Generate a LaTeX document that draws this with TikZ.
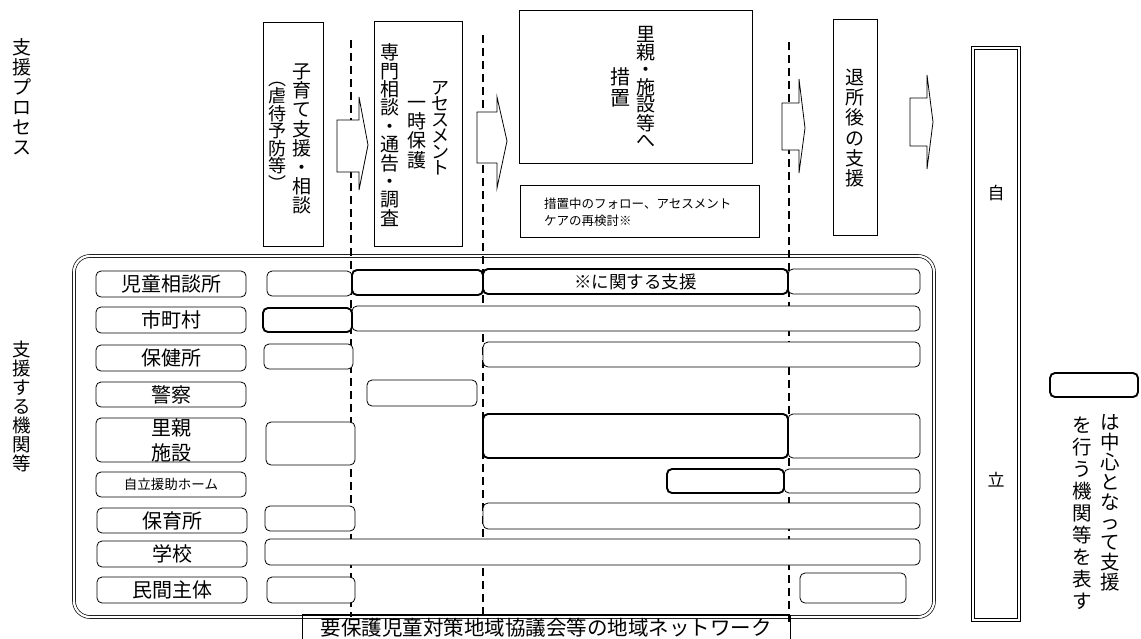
\documentclass[tikz,border=0pt]{standalone}
\usepackage{fontspec}
\newfontfamily\jp{Noto Sans CJK JP}
\newcommand\pbox[7]{\node[#1, minimum width={#4-#2}, minimum height={#5-#3}] (#6) at ({(#2+#4)/2},{(#3+#5)/2}) {#7};}
\begin{document}
\begin{tikzpicture}[x=1pt,y=-1pt,
  thinbar/.style={draw, line width=0.8pt, rounded corners=5pt, fill=white, inner sep=0pt, outer sep=0pt},
  thickbar/.style={thinbar, line width=1.9pt},
  lbl/.style={thinbar, font=\jp\fontsize{20}{25}\selectfont, align=center},
  procbox/.style={draw, line width=0.8pt, fill=white, inner sep=0pt, outer sep=0pt},
  vt/.style 2 args={font=\jp\fontsize{#1}{#2}\selectfont, align=center, inner sep=0pt},
  divider/.style={line width=1.3pt, dash pattern=on 8pt off 5pt},
  blockarrow/.style={draw, line width=0.8pt, fill=white, line join=miter},
  netbox/.style={draw, line width=0.7pt, double, double distance=2.2pt, rounded corners=16pt, inner sep=0pt, outer sep=0pt},
  goalbox/.style={draw, line width=0.8pt, double, double distance=2.6pt, inner sep=0pt, outer sep=0pt},
]
\useasboundingbox (0,0) rectangle (1141,638);
\clip (0,0) rectangle (1141,638);
\fill[white] (0,0) rectangle (1141,638);

% side labels
\node[vt={19}{20}] (procLbl) at (22,97) {支\\援\\プ\\ロ\\セ\\ス};
\node[vt={18.5}{19}] (orgLbl) at (22,406) {支\\援\\す\\る\\機\\関\\等};

% network frame
\pbox{netbox}{74}{256}{934}{617}{net}{}

% dividers
\coordinate (d1t) at (351,40);  \coordinate (d1b) at (351,617);
\coordinate (d2t) at (483,35);  \coordinate (d2b) at (483,617);
\coordinate (d3t) at (789,42);  \coordinate (d3b) at (789,622);
\draw[divider] (d1t) -- (d1b);
\draw[divider] (d2t) -- (d2b);
\draw[divider] (d3t) -- (d3b);

% row labels
\pbox{lbl}{96}{271}{246}{297}{L1}{児童相談所}
\pbox{lbl}{96}{307}{246}{333}{L2}{市町村}
\pbox{lbl}{96}{345}{246}{371}{L3}{保健所}
\pbox{lbl}{96}{382}{246}{407}{L4}{警察}
\pbox{lbl}{96}{418}{246}{462}{L5}{里親\\施設}
\pbox{thinbar, font=\jp\fontsize{13.5}{15}\selectfont}{96}{472}{246}{497}{L6}{自立援助ホーム}
\pbox{lbl}{97}{508}{247}{533}{L7}{保育所}
\pbox{lbl}{97}{541}{247}{567}{L8}{学校}
\pbox{lbl}{97}{577}{247}{603}{L9}{民間主体}

% row bars
\pbox{thinbar}{267}{271}{352}{296}{r1a}{}
\pbox{thinbar}{788}{269}{920}{294}{r1d}{}
\pbox{thickbar}{352}{270}{483}{295}{r1b}{}
\pbox{thickbar, font=\jp\fontsize{17.5}{20}\selectfont}{483}{269}{788}{294}{r1c}{※に関する支援}

\pbox{thinbar}{352}{306}{920}{331}{r2b}{}
\pbox{thickbar}{263}{308}{352}{332}{r2a}{}

\pbox{thinbar}{264}{344}{353}{369}{r3a}{}
\pbox{thinbar}{483}{342}{920}{367}{r3b}{}

\pbox{thinbar}{367}{380}{477}{406}{r4a}{}

\pbox{thinbar}{266}{422}{355}{465}{r5a}{}
\pbox{thinbar}{788}{414}{920}{458}{r5c}{}
\pbox{thickbar}{483}{414}{788}{458}{r5b}{}

\pbox{thinbar}{784}{469}{920}{493}{r6b}{}
\pbox{thickbar}{667}{469}{784}{493}{r6a}{}

\pbox{thinbar}{265}{506}{355}{531}{r7a}{}
\pbox{thinbar}{483}{503}{920}{529}{r7b}{}

\pbox{thinbar}{265}{539}{920}{565}{r8a}{}

\pbox{thinbar}{267}{577}{355}{603}{r9a}{}
\pbox{thinbar}{800}{573}{906}{603}{r9b}{}

% bottom network label
\pbox{procbox, fill=none}{302}{615}{790}{660}{netLbl}{}
\draw[line width=2.6pt] (netLbl.north west) -- (netLbl.north east);
\node[font=\jp\fontsize{20.5}{21}\selectfont, inner sep=0pt] (netTxt) at (546,627.5) {要保護児童対策地域協議会等の地域ネットワーク};

% process boxes
\pbox{procbox}{263}{22}{323}{246}{p1}{}
\node[vt={19}{19.1}] (p1a) at (302,139) {子\\育\\て\\支\\援\\・\\相\\談};
\node[vt={18}{17.5}] (p1b) at (277,136) {︵\\虐\\待\\予\\防\\等\\︶};

\pbox{procbox}{374}{21}{462}{246}{p2}{}
\node[vt={18}{16}] (p2a) at (440,128) {ア\\セ\\ス\\メ\\ン\\ト};
\node[vt={19}{19.3}] (p2b) at (417,135) {一\\時\\保\\護};
\node[vt={19}{18.4}] (p2c) at (390,135) {専\\門\\相\\談\\・\\通\\告\\・\\調\\査};

\pbox{procbox}{519}{10}{752}{163}{p3}{}
\node[vt={19}{17.5}] (p3a) at (646,87) {里\\親\\・\\施\\設\\等\\へ};
\node[vt={20}{21}] (p3b) at (620,87) {措\\置};

\pbox{procbox}{520}{185}{759}{237}{p3n}{}
\node[anchor=west, align=left, inner sep=0pt, font=\jp\fontsize{12.5}{17}\selectfont] (p3nt) at (544,212) {措置中のフォロー、アセスメント\\ケアの再検討※};

\pbox{procbox}{833}{19}{877}{235}{p4}{}
\node[vt={19}{20.2}] (p4a) at (855,128) {退\\所\\後\\の\\支\\援};

% goal box
\pbox{goalbox}{973}{48}{1019}{620}{goal}{}
\node[font=\jp\fontsize{17}{17}\selectfont, inner sep=0pt] (g1) at (996,193) {自};
\node[font=\jp\fontsize{17}{17}\selectfont, inner sep=0pt] (g2) at (996,480) {立};

% block arrows
\draw[blockarrow] (337,120) -- (359,120) -- (359,97) -- (368,145) -- (359,190) -- (359,172) -- (337,172) -- cycle;
\draw[blockarrow] (477,112) -- (497,112) -- (497,97) -- (507,141) -- (497,188) -- (497,163) -- (477,163) -- cycle;
\draw[blockarrow] (782,103) -- (799,103) -- (799,79) -- (805,128) -- (799,173) -- (799,150) -- (782,150) -- cycle;
\draw[blockarrow] (910,98) -- (927,98) -- (927,75) -- (933,122) -- (927,169) -- (927,146) -- (910,146) -- cycle;

% legend
\pbox{thickbar}{1050}{373}{1138}{397}{legend}{}
\node[vt={19.5}{20}] (leg1) at (1110,503) {は\\中\\心\\と\\な\\っ\\て\\支\\援};
\node[vt={19.5}{22}] (leg2) at (1082,513) {を\\行\\う\\機\\関\\等\\を\\表\\す};
\end{tikzpicture}
\end{document}
